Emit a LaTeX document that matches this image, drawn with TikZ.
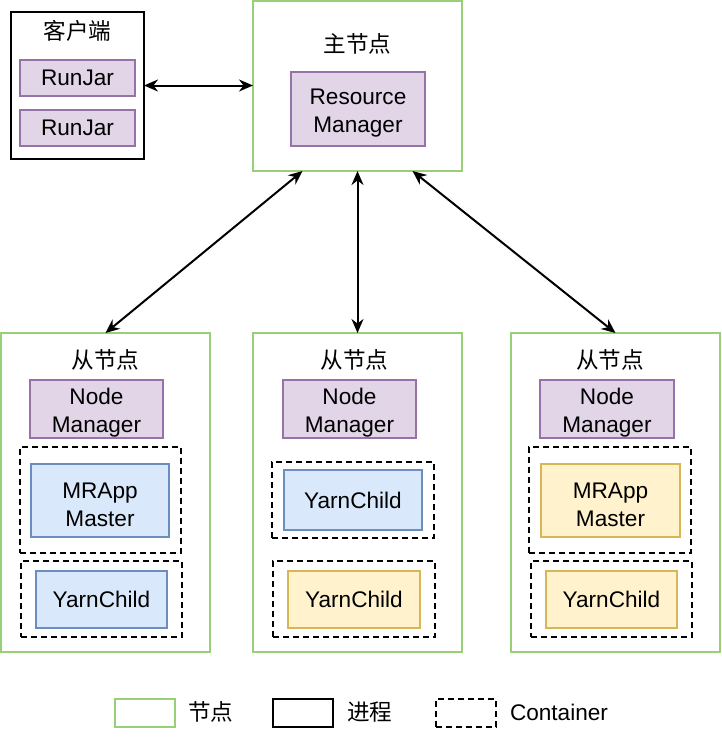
\documentclass[tikz,border=0pt]{standalone}
\usepackage{fontspec}
\setmainfont{Liberation Sans}
\newfontfamily\cjk{Noto Sans CJK SC}
\usetikzlibrary{arrows.meta,calc}
\definecolor{ngreen}{HTML}{97D077}
\definecolor{pfill}{HTML}{E1D5E7}
\definecolor{pdraw}{HTML}{9673A6}
\definecolor{bfill}{HTML}{DAE8FC}
\definecolor{bdraw}{HTML}{6C8EBF}
\definecolor{yfill}{HTML}{FFF2CC}
\definecolor{ydraw}{HTML}{D6B656}
\newcommand{\strt}{\rule{0pt}{23.5pt}}
\begin{document}
\begin{tikzpicture}[x=1pt,y=-1pt,
  every node/.style={inner sep=0pt, outer sep=0pt, align=center, font=\fontsize{22.6}{28}\selectfont},
  nodebox/.style={draw=ngreen, line width=1.8pt, fill=white},
  procbox/.style={draw=black, line width=1.8pt},
  contbox/.style={draw=black, line width=1.8pt, dash pattern=on 6pt off 4pt},
  purplebox/.style={draw=pdraw, fill=pfill, line width=1.8pt},
  bluebox/.style={draw=bdraw, fill=bfill, line width=1.8pt},
  yellowbox/.style={draw=ydraw, fill=yfill, line width=1.8pt},
  conn/.style={line width=2pt, {Stealth[length=14pt,width=12pt]}-{Stealth[length=14pt,width=12pt]}},
  sz/.style 2 args={minimum width=#1pt, minimum height=#2pt}
]
\useasboundingbox (0,0) rectangle (722,745);
\fill[white] (0,0) rectangle (722,745);

% client
\node[procbox, sz={133}{147}] (client) at (77.5,85.5) {};
\node (clientt) at (77.5,31) {\cjk 客户端};
\node[purplebox, sz={115}{36}] (rj1) at (77.5,78) {RunJar};
\node[purplebox, sz={115}{36}] (rj2) at (77.5,128) {RunJar};

% main
\node[nodebox, sz={209}{170}] (main) at (357.5,86) {};
\node (maint) at (357.5,44) {\cjk 主节点};
\node[purplebox, sz={134}{74}] (rm) at (358,109) {\strt Resource\\Manager};

% slave 1
\node[nodebox, sz={209}{319}] (s1) at (105.5,492.5) {};
\node (s1t) at (105.5,360) {\cjk 从节点};
\node[purplebox, sz={133}{58}] (nm1) at (96.5,409) {\strt Node\\Manager};
\node[contbox, sz={161}{106}] (c11) at (100.5,500) {};
\node[bluebox, sz={138}{73}] (mr1) at (100,500.5) {\strt MRApp\\Master};
\node[contbox, sz={161}{76}] (c12) at (101.5,599) {};
\node[bluebox, sz={131}{57}] (yc1) at (101.5,599.5) {YarnChild};

% slave 2
\node[nodebox, sz={209}{319}] (s2) at (357.5,492.5) {};
\node (s2t) at (354.5,360) {\cjk 从节点};
\node[purplebox, sz={133}{58}] (nm2) at (349.5,409) {\strt Node\\Manager};
\node[contbox, sz={162}{76}] (c21) at (353,500) {};
\node[bluebox, sz={138}{60}] (yc21) at (353,500) {YarnChild};
\node[contbox, sz={162}{76}] (c22) at (354,599) {};
\node[yellowbox, sz={132}{57}] (yc22) at (354,599.5) {YarnChild};

% slave 3
\node[nodebox, sz={209}{319}] (s3) at (615.5,492.5) {};
\node (s3t) at (610,360) {\cjk 从节点};
\node[purplebox, sz={134}{58}] (nm3) at (607,409) {\strt Node\\Manager};
\node[contbox, sz={162}{106}] (c31) at (610,500) {};
\node[yellowbox, sz={139}{73}] (mr3) at (610.5,500.5) {\strt MRApp\\Master};
\node[contbox, sz={161}{76}] (c32) at (611.5,599) {};
\node[yellowbox, sz={131}{57}] (yc3) at (611.5,599.5) {YarnChild};

% connectors
\draw[conn] (client.east) -- (client.east -| main.west);
\coordinate (m1) at ($(main.south)+(-55,0)$);
\coordinate (m3) at ($(main.south)+(55,0)$);
\draw[conn] (m1) -- (s1.north);
\draw[conn] (main.south) -- (s2.north);
\draw[conn] (m3) -- (s3.north);

% legend
\node[nodebox, sz={60}{28}] (lg1) at (145,713) {};
\node[anchor=west] (lg1t) at (188,712) {\cjk 节点};
\node[procbox, sz={60}{28}] (lg2) at (303,713) {};
\node[anchor=west] (lg2t) at (347,712) {\cjk 进程};
\node[contbox, sz={60}{28}] (lg3) at (466,713) {};
\node[anchor=west] (lg3t) at (510,712) {Container};
\end{tikzpicture}
\end{document}
